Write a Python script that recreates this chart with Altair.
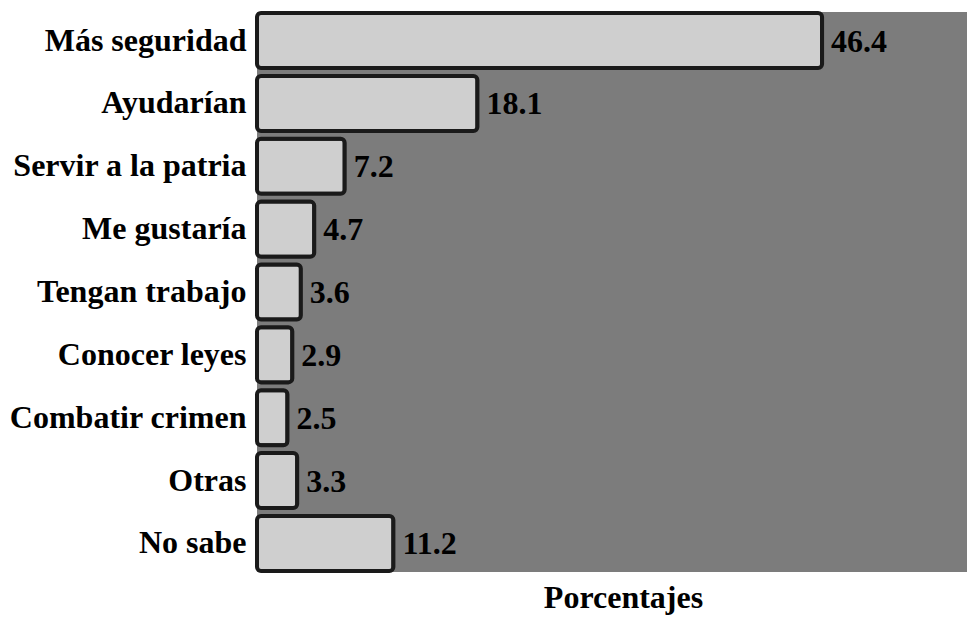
import altair as alt
import pandas as pd

categories = ["Más seguridad", "Ayudarían", "Servir a la patria", "Me gustaría",
              "Tengan trabajo", "Conocer leyes", "Combatir crimen", "Otras", "No sabe"]
values = [46.4, 18.1, 7.2, 4.7, 3.6, 2.9, 2.5, 3.3, 11.2]
labels = ["46.4", "18.1", "7.2", "4.7", "3.6", "2.9", "2.5", "3.3", "11.2"]

df = pd.DataFrame({"cat": categories, "val": values, "lab": labels})

FONT = "'Liberation Serif', 'Times New Roman', Times, 'DejaVu Serif', serif"

x = alt.X(
    "val:Q",
    scale=alt.Scale(domain=[0, 58.3], nice=False, zero=True),
    axis=alt.Axis(title="Porcentajes", labels=False, ticks=False, domain=False, grid=False,
                  titleFont=FONT, titleFontSize=32, titleFontWeight="bold",
                  titleColor="black", titlePadding=10, titleX=366),
)
y = alt.Y(
    "cat:N", sort=categories,
    scale=alt.Scale(paddingInner=0.125, paddingOuter=0.016),
    axis=alt.Axis(title=None, ticks=False, domain=False, grid=False,
                  labelFont=FONT, labelFontSize=32, labelFontWeight="bold",
                  labelColor="black", labelPadding=11, labelLimit=400),
)

bars = alt.Chart(df).mark_bar(
    fill="#cfcfcf", stroke="#1a1a1a", strokeWidth=4, cornerRadius=4
).encode(x=x, y=y)

text = alt.Chart(df).mark_text(
    align="left", baseline="middle", dx=9, dy=1,
    font=FONT, fontSize=32, fontWeight="bold", color="black"
).encode(x="val:Q", y=alt.Y("cat:N", sort=categories), text="lab:N")

chart = (bars + text).properties(
    width=710, height=560, autosize="none", background="white",
    padding={"left": 249, "top": 4, "right": 0, "bottom": 48},
).configure_view(fill="#7c7c7c", stroke=None)

chart.save("out.html", embed_options={"renderer": "svg", "actions": False})
